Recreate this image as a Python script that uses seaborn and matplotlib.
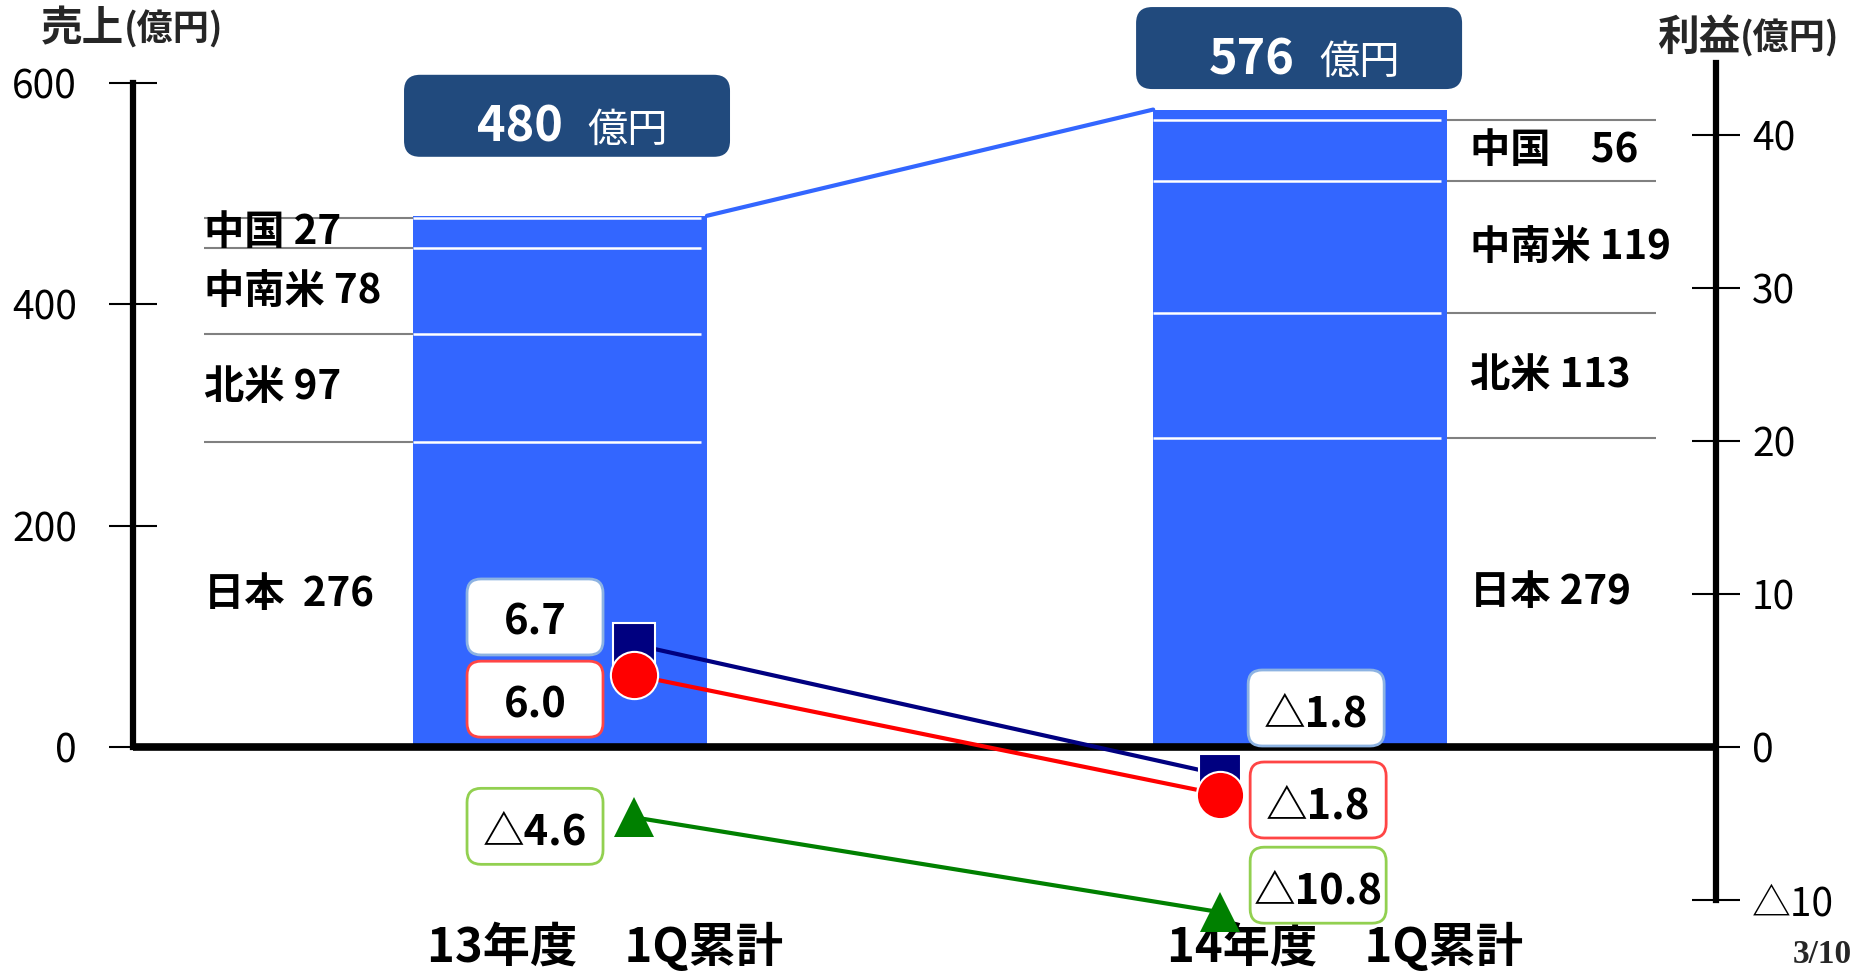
import numpy as np
import pandas as pd
import seaborn as sns
import matplotlib.pyplot as plt
import matplotlib.transforms as mtransforms
from matplotlib.patches import FancyBboxPatch

# -----------------------------
# Data
# -----------------------------
periods = ["13年度\u30001Q累計", "14年度\u30001Q累計"]
sales_total = [480, 576]                  # 売上 (億円)
regions = ["日本", "北米", "中南米", "中国"]  # stacked from the bottom
sales_13 = [276, 97, 78, 27]
sales_14 = [279, 113, 119, 56]
label_gaps = [["  ", " ", " ", " "], [" ", " ", " ", "\u3000"]]

profit_op = [6.7, -1.8]       # navy squares
profit_ord = [6.0, -1.8]      # red circles
profit_net = [-4.6, -10.8]    # green triangles

sales_ticks = [0, 200, 400, 600]
profit_ticks = [-10, 0, 10, 20, 30, 40]

# -----------------------------
# Style / layout (pixels of the 1856x973 canvas)
# -----------------------------
W, H = 1856, 973
BLUE = "#3366FF"
NAVY_BOX = "#214A7D"
bar_w = 0.397
marker_dx = [0.10, -0.108]          # markers sit inside the bars
ext_len = 0.283                      # grey leader lines outside the bars
label_x = [-0.481, 0.23]             # region label x, relative to bar centre
total_box_off = [(7, 100), (-1, 61.5)]
box_off = {
    "op": [(-99, 27.5), (96, 66.5)],
    "ord": [(-99, -44), (98, -25.5)],
    "net": [(-99, -9), (98, 27)],
}

sns.set_theme(style="ticks")
plt.rcParams["font.family"] = ["Noto Sans CJK JP", "DejaVu Sans"]

fig = plt.figure(figsize=(W / 100, H / 100), dpi=100)
ax = fig.add_axes([133 / W, 68 / H, (1716 - 133) / W, 850 / H])

df = pd.DataFrame({"period": periods, "total": sales_total})
sns.barplot(data=df, x="period", y="total", color=BLUE, saturation=1,
            width=bar_w, errorbar=None, linewidth=0, ax=ax)

# region boundaries and labels
for i, vals in enumerate([sales_13, sales_14]):
    vals = np.array(vals)
    cum = np.cumsum(vals)
    lows = cum - vals
    ax.hlines(cum, i - bar_w / 2, i + bar_w / 2 - 0.008, colors="white", lw=1.8, zorder=3)
    if i == 0:
        ax.hlines(cum, i - bar_w / 2 - ext_len, i - bar_w / 2, colors="#808080", lw=1.5)
    else:
        ax.hlines(cum, i + bar_w / 2, i + bar_w / 2 + ext_len, colors="#808080", lw=1.5)
    for name, v, lo, gap in zip(regions, vals, lows, label_gaps[i]):
        ax.text(i + label_x[i], lo + v / 2, f"{name}{gap}{v}", ha="left", va="center",
                fontsize=29, fontweight="bold", color="black")

# line joining the two bar tops
ax.plot([0 + bar_w / 2, 1 - bar_w / 2], sales_total, color=BLUE, lw=3, zorder=2)

ax.axhline(0, color="black", lw=5.5, zorder=2.6)

ax.set_xlim(-0.577, 1.562)
ax.set_ylim(-142.8, 625.3)
ax.set_yticks(sales_ticks)
ax.set_xticks([0, 1], periods)
ax.set_xlabel("")
ax.set_ylabel("")
for s in ["top", "right", "bottom"]:
    ax.spines[s].set_visible(False)
ax.spines["left"].set_bounds(0, 600)
ax.spines["left"].set_linewidth(4.5)
ax.spines["left"].set_color("black")
ax.tick_params(axis="y", left=True, right=False, direction="inout", length=35, width=1.5,
               pad=22.8, labelsize=28, color="black", labelcolor="black")
ax.tick_params(axis="x", bottom=False, length=0, pad=13, labelsize=34, labelcolor="black")
shift = mtransforms.ScaledTranslation(0.45, 0, fig.dpi_scale_trans)
for lbl in ax.get_xticklabels():
    lbl.set_fontweight("bold")
    lbl.set_transform(lbl.get_transform() + shift)

# -----------------------------
# Profit axis (right)
# -----------------------------
ax2 = ax.twinx()
ax2.set_ylim(-10.33, 45.23)
for s in ["top", "left", "bottom"]:
    ax2.spines[s].set_visible(False)
ax2.spines["right"].set_bounds(-10, 44.7)
ax2.spines["right"].set_linewidth(4.5)
ax2.spines["right"].set_color("black")
ax2.set_yticks(profit_ticks, [f"△{abs(t)}" if t < 0 else f"{t}" for t in profit_ticks])
ax2.tick_params(axis="y", right=True, left=False, direction="inout", length=35, width=1.5,
                pad=8.5, labelsize=28, color="black", labelcolor="black")

px = [i + d for i, d in enumerate(marker_dx)]
red_shift = ax2.transData + mtransforms.ScaledTranslation(0, -0.20, fig.dpi_scale_trans)

ax2.plot(px, profit_op, color="#000080", lw=3, marker="s", ms=30, mfc="#000080",
         mec="white", mew=1.5, clip_on=False, zorder=3)
ax2.plot(px, profit_ord, color="#FF0000", lw=3, marker="o", ms=34, mfc="#FF0000",
         mec="white", mew=1.5, clip_on=False, zorder=4, transform=red_shift)
ax2.plot(px, profit_net, color="#008000", lw=3, marker="^", ms=29, mfc="#008000",
         mec="#008000", mew=0, clip_on=False, zorder=4)


def at(axis, x, y, dx=0, dy=0):
    return mtransforms.Affine2D().translate(dx, dy) + mtransforms.ScaledTranslation(x, y, axis.transData)


def fmt(v):
    return f"△{abs(v):.1f}" if v < 0 else f"{v:.1f}"


series = [("op", profit_op, "#8DB3E2"), ("ord", profit_ord, "#FF4545"), ("net", profit_net, "#92D050")]
for key, vals, ec in series:
    for i, v in enumerate(vals):
        dx, dy = box_off[key][i]
        tr = at(ax2, px[i], v, dx, dy)
        box = FancyBboxPatch((-68, -38), 136, 76, boxstyle="round,pad=0,rounding_size=14",
                             fc="white", ec=ec, lw=2, transform=tr, clip_on=False, zorder=6)
        ax2.add_artist(box)
        ax2.text(0, -18, fmt(v), transform=tr, ha="center", va="baseline", fontsize=30,
                 fontweight="bold", color="black", clip_on=False, zorder=7)

# total boxes above the bars
for i, tot in enumerate(sales_total):
    dx, dy = total_box_off[i]
    tr = at(ax, i, tot, dx, dy)
    box = FancyBboxPatch((-163, -41), 326, 82, boxstyle="round,pad=0,rounding_size=16",
                         fc=NAVY_BOX, ec="none", transform=tr, clip_on=False, zorder=6)
    ax.add_artist(box)
    ax.text(-4, -26, f"{tot}", transform=tr, ha="right", va="baseline", fontsize=35,
            fontweight="bold", color="white", clip_on=False, zorder=7)
    ax.text(20, -26, "億円", transform=tr, ha="left", va="baseline", fontsize=29,
            color="white", clip_on=False, zorder=7)

# axis titles and page number
fig.text(41 / W, 1 - 29 / H, "売上", ha="left", va="center", fontsize=30, fontweight="bold")
fig.text(124 / W, 1 - 30 / H, "(億円)", ha="left", va="center", fontsize=26, fontweight="bold")
fig.text(1657 / W, 1 - 38 / H, "利益", ha="left", va="center", fontsize=30, fontweight="bold")
fig.text(1740 / W, 1 - 39 / H, "(億円)", ha="left", va="center", fontsize=26, fontweight="bold")
fig.text(1852 / W, 3 / H, "3/10", ha="right", va="bottom", fontsize=24, fontweight="bold",
         family=["Liberation Serif", "DejaVu Serif"])

fig.savefig("out.png", dpi=100)
